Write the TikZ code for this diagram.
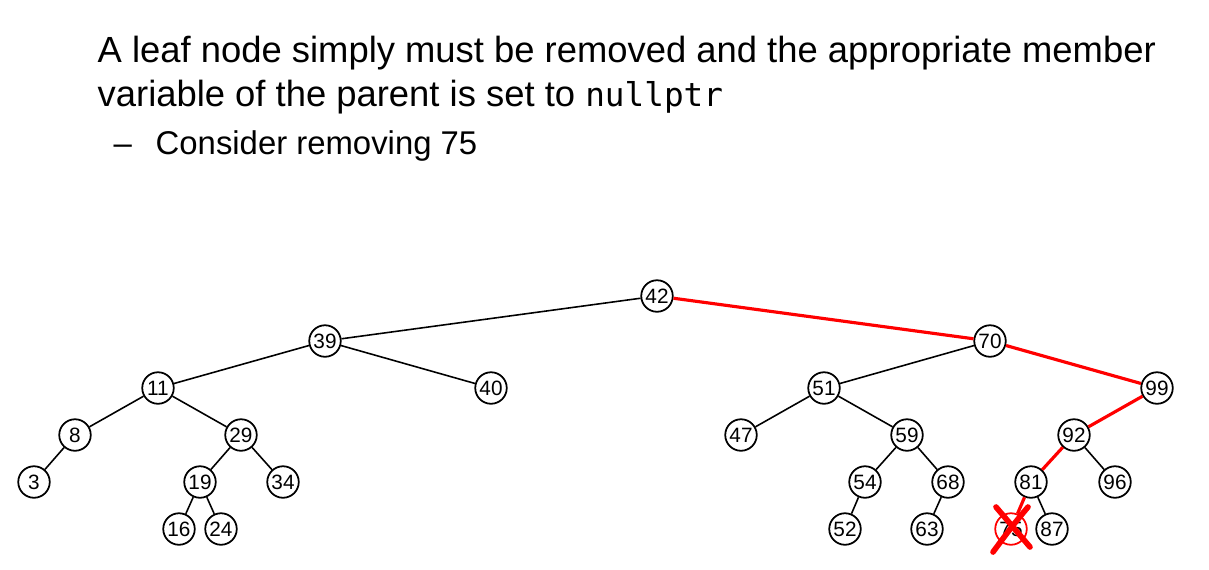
\documentclass[tikz,border=0pt]{standalone}
\usepackage{fontspec}
\setmainfont{Liberation Sans}
\setmonofont{DejaVu Sans Mono}
\usetikzlibrary{calc}

\begin{document}
\begin{tikzpicture}[x=0.01cm,y=-0.01cm,
    key/.style={circle,draw,line width=0.5pt,minimum size=0.315cm,inner sep=0pt,
        font=\fontsize{5.9}{6}\selectfont},
    edge/.style={line width=0.45pt},
    hot/.style={red,line width=0.9pt},
    txt/.style={anchor=base west,inner sep=0pt,font=\fontsize{10.35}{12}\selectfont}]
    \useasboundingbox (0,0) rectangle (1209,569);

    % Text
    \node[txt] (line1) at (97,62) {A leaf node simply must be removed and the appropriate member};
    \node[txt] (line2) at (97,106) {variable of the parent is set to {\ttfamily\fontsize{9.3}{12}\selectfont nullptr}};
    \node[txt,font=\fontsize{9.35}{12}\selectfont] (dash) at (113,154) {--};
    \node[txt,font=\fontsize{9.35}{12}\selectfont] (line3) at (155,154) {Consider removing 75};

    % Define nodes
    \foreach \name/\px/\py in {42/657/296, 39/325/341, 70/990/341,
        11/158/388, 40/491/388, 51/824/388, 99/1157/388,
        8/75/435, 29/241/435, 47/741/435, 59/907/435, 92/1074/435,
        3/34/482, 19/200/482, 34/283/482, 54/865/482, 68/948/482, 81/1031/482, 96/1115/482,
        16/179/529, 24/221/529, 52/845/529, 63/927/529, 87/1052/529} {
        \node[key] (n\name) at (\px,\py) {\name};
    }
    \node[key,draw=red] (n75) at (1011,529) {75};

    % Edges
    \foreach \a/\b in {42/39, 39/11, 39/40, 11/8, 11/29, 8/3, 29/19, 29/34,
        19/16, 19/24, 70/51, 51/47, 51/59, 59/54, 59/68, 54/52, 68/63,
        92/96, 81/87} {
        \draw[edge] (n\a) -- (n\b);
    }
    \foreach \a/\b in {42/70, 70/99, 99/92, 92/81, 81/75} {
        \draw[hot] (n\a) -- (n\b);
    }

    % Cross out 75
    \draw[red,line width=1.6pt,line cap=round]
        ($(n75)+(-15,-22)$) -- ($(n75)+(19,18)$);
    \draw[red,line width=1.6pt,line cap=round]
        ($(n75)+(17,-22)$) .. controls ($(n75)+(2,-4)$) .. ($(n75)+(-18,23)$);
\end{tikzpicture}
\end{document}
